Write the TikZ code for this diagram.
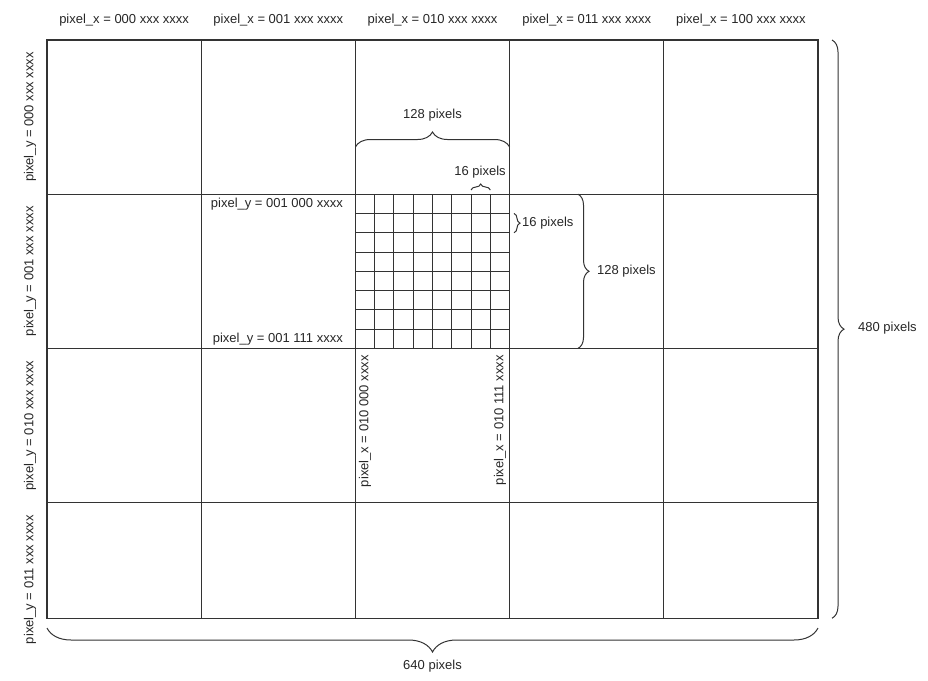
\documentclass[tikz,border=0pt]{standalone}
\usepackage{fontspec}
\setmainfont{Liberation Sans}
\usetikzlibrary{decorations.pathreplacing}

\begin{document}
\begin{tikzpicture}[x=1pt, y=-1pt,
        grid line/.style={draw=black!80, line width=1.1pt},
        sub line/.style={draw=black!80, line width=1pt},
        label text/.style={font=\fontsize{13}{15}\selectfont, text=black!85, inner sep=0pt},
        brace line/.style={draw=black!80, line width=1pt, decorate,
            decoration={brace, amplitude=#1}}
    ]

    \useasboundingbox (0,0) rectangle (928,680);

    % Define positions for the frame
    \def\xl{47}
    \def\yt{40}
    \def\cw{154.2} % one column = 128 pixels
    \def\sw{19.275} % one sub cell = 16 pixels

    % Corners of the frame and of the zoomed cell
    \coordinate (nw) at (\xl, \yt);
    \coordinate (se) at (\xl+5*\cw, \yt+3.75*\cw);
    \coordinate (cnw) at (\xl+2*\cw, \yt+\cw);
    \coordinate (cse) at (\xl+3*\cw, \yt+2*\cw);

    % Draw the frame (5 columns, 3.75 rows)
    \draw[grid line] (nw) rectangle (se);
    \foreach \i in {1,...,4}
        \draw[grid line] (\xl+\i*\cw, \yt) -- (\xl+\i*\cw, \yt+3.75*\cw);
    \foreach \j in {1,...,3}
        \draw[grid line] (\xl, \yt+\j*\cw) -- (\xl+5*\cw, \yt+\j*\cw);

    % Draw the 8x8 sub grid
    \foreach \k in {1,...,7} {
        \draw[sub line] (\xl+2*\cw+\k*\sw, \yt+\cw) -- (\xl+2*\cw+\k*\sw, \yt+2*\cw);
        \draw[sub line] (\xl+2*\cw, \yt+\cw+\k*\sw) -- (\xl+3*\cw, \yt+\cw+\k*\sw);
    }

    % Column labels (top)
    \foreach \i/\b in {0/000, 1/001, 2/010, 3/011, 4/100}
        \node[label text] (colx\i) at (\xl+\i*\cw+0.5*\cw, 20) {pixel\_x = \b\ xxx xxxx};

    % Row labels (left)
    \foreach \j/\b in {0/000, 1/001, 2/010, 3/011}
        \node[label text, rotate=90] (rowy\j) at (30, \yt+\j*\cw+0.5*\cw) {pixel\_y = \b\ xxx xxxx};

    % Labels of the sub grid
    \node[label text, anchor=east] (suby0) at (343, \yt+\cw+0.5*\sw) {pixel\_y = 001 000 xxxx};
    \node[label text, anchor=east] (suby7) at (343, \yt+\cw+7.5*\sw) {pixel\_y = 001 111 xxxx};
    \node[label text, rotate=90, anchor=east] (subx0) at (\xl+2*\cw+0.5*\sw, 355) {pixel\_x = 010 000 xxxx};
    \node[label text, rotate=90, anchor=east] (subx7) at (\xl+2*\cw+7.5*\sw, 355) {pixel\_x = 010 111 xxxx};

    % Braces of the zoomed cell
    \coordinate (b1a) at (\xl+2*\cw, 147);
    \coordinate (b1b) at (\xl+3*\cw, 147);
    \draw[brace line=15] (b1a) -- (b1b);
    \node[label text] (cellw) at (432.5, 115) {128 pixels};

    \coordinate (b2a) at (\xl+2*\cw+6*\sw, 190);
    \coordinate (b2b) at (\xl+2*\cw+7*\sw, 190);
    \draw[brace line=6] (b2a) -- (b2b);
    \node[label text] (subw) at (480, 172) {16 pixels};

    \coordinate (b3a) at (514, \yt+\cw+\sw);
    \coordinate (b3b) at (514, \yt+\cw+2*\sw);
    \draw[brace line=6] (b3a) -- (b3b);
    \node[label text, anchor=west] (subh) at (522, \yt+\cw+1.5*\sw) {16 pixels};

    \coordinate (b4a) at (578, \yt+\cw);
    \coordinate (b4b) at (578, \yt+2*\cw);
    \draw[brace line=11] (b4a) -- (b4b);
    \node[label text, anchor=west] (cellh) at (597, \yt+1.5*\cw) {128 pixels};

    % Braces of the whole screen
    \coordinate (b5a) at (832, \yt);
    \coordinate (b5b) at (832, \yt+3.75*\cw);
    \draw[brace line=12] (b5a) -- (b5b);
    \node[label text, anchor=west] (screenh) at (858, 328) {480 pixels};

    \coordinate (b6a) at (\xl+5*\cw, 628);
    \coordinate (b6b) at (\xl, 628);
    \draw[brace line=24] (b6a) -- (b6b);
    \node[label text] (screenw) at (432.5, 666) {640 pixels};

\end{tikzpicture}
\end{document}
